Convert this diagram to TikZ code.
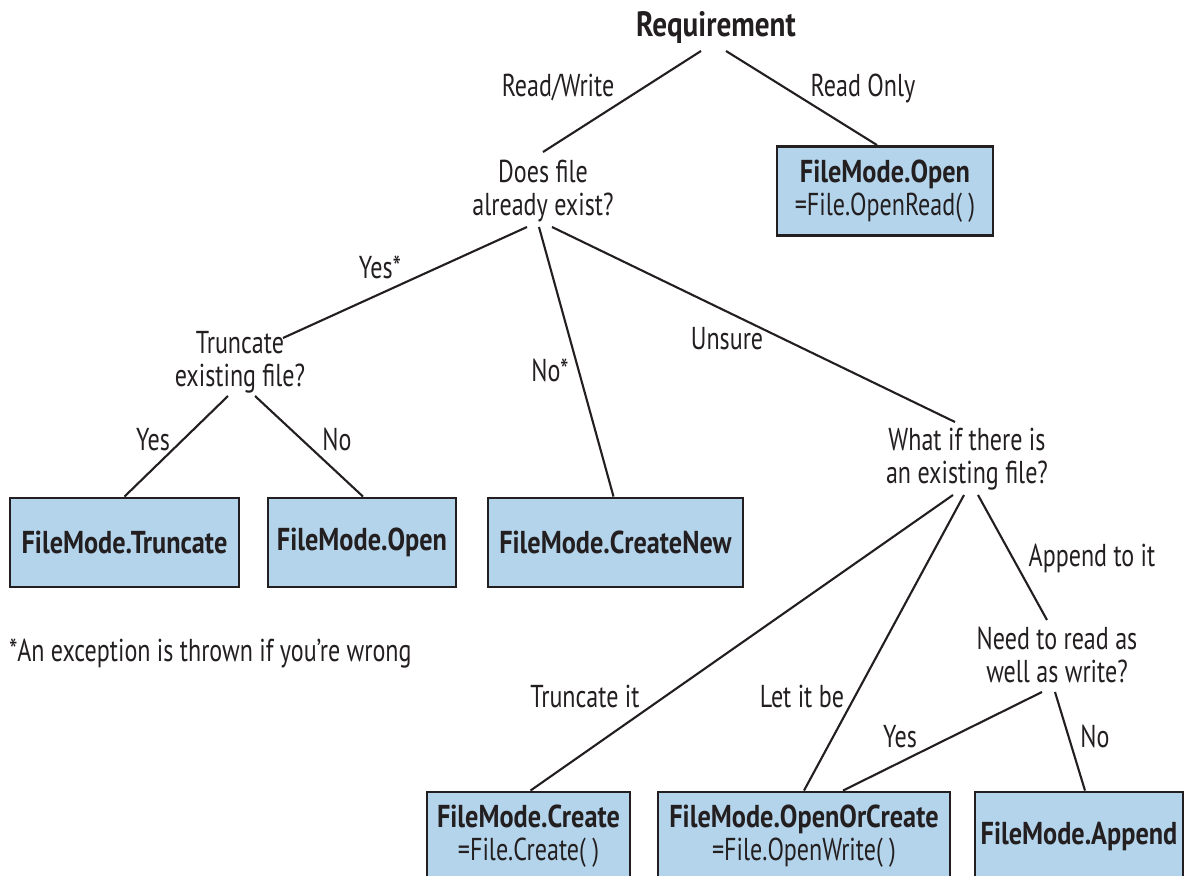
\documentclass[tikz,border=0pt]{standalone}
\usepackage{fontspec}
\setmainfont{PT Sans}[FakeStretch=0.76,BoldFeatures={FakeStretch=0.83}]
\usetikzlibrary{calc}
\definecolor{boxblue}{HTML}{B4D4EB}
\definecolor{ink}{HTML}{231F20}

\begin{document}
\begin{tikzpicture}[x=0.01cm,y=-0.01cm,line width=0.6pt,ink,
  font=\fontsize{9}{9.4}\selectfont,
  mode/.style={draw=ink,fill=boxblue,line width=0.8pt,align=center,inner sep=0pt,minimum height=0.89cm},
  ask/.style={align=center,inner sep=0pt},
  lbl/.style={anchor=base,inner sep=0pt}]
  \useasboundingbox (0,0) rectangle (1190,876);
  \clip (0,0) rectangle (1190,876);
  % questions
  \node[lbl,font=\fontsize{10}{10}\selectfont\bfseries] (req) at (716,37) {Requirement};
  \node[ask] (exist) at (543,191) {Does file\\already exist?};
  \node[ask] (trunc) at (240,362) {Truncate\\existing file?};
  \node[ask] (there) at (967,459) {What if there is\\an existing file?};
  \node[ask] (rw) at (1057,655) {Need to read as\\well as write?};
  % answers
  \node[mode,minimum width=2.16cm] (openro) at (885,191) {{\bfseries FileMode.Open}\\=File.OpenRead( )};
  \node[mode,minimum width=2.29cm,font=\fontsize{9}{9.4}\selectfont\bfseries] (mtrunc) at (124.5,542.5) {FileMode.Truncate};
  \node[mode,minimum width=1.88cm,font=\fontsize{9}{9.4}\selectfont\bfseries] (mopen) at (362,542.5) {FileMode.Open};
  \node[mode,minimum width=2.55cm,font=\fontsize{9}{9.4}\selectfont\bfseries] (mnew) at (615.5,542.5) {FileMode.CreateNew};
  \node[mode,minimum width=2.03cm] (mcreate) at (528.5,836.5) {{\bfseries FileMode.Create}\\=File.Create( )};
  \node[mode,minimum width=2.92cm] (mooc) at (804,836.5) {{\bfseries FileMode.OpenOrCreate}\\=File.OpenWrite( )};
  \node[mode,minimum width=2.08cm,font=\fontsize{9}{9.4}\selectfont\bfseries] (mapp) at (1079,836.5) {FileMode.Append};
  % connectors
  \draw ($(req.base)+(-15,14)$) -- ($(exist.center)+(0,-39)$);
  \draw ($(req.base)+(10,14)$) -- ($(openro.north)+(-8,0)$);
  \draw ($(exist.center)+(-16,36)$) -- ($(trunc.center)+(43,-24)$);
  \draw ($(exist.center)+(-4,36)$) -- ($(mnew.north)+(-2,0)$);
  \draw ($(exist.center)+(9,36)$) -- ($(there.center)+(-12,-37)$);
  \draw ($(trunc.center)+(-12,34)$) -- (mtrunc.north);
  \draw ($(trunc.center)+(15,34)$) -- ($(mopen.north)+(1,0)$);
  \draw ($(there.center)+(-14,36)$) -- ($(mcreate.north)+(2,0)$);
  \draw ($(there.center)+(-3,36)$) -- (mooc.north);
  \draw ($(there.center)+(11,36)$) -- ($(rw.center)+(-10,-35)$);
  \draw ($(rw.center)+(-15,37)$) -- ($(mooc.north)+(39,0)$);
  \draw ($(rw.center)+(-2,37)$) -- ($(mapp.north)+(6,0)$);
  % labels
  \node[lbl] (lrw) at (558,97) {Read/Write};
  \node[lbl] (lro) at (863,97) {Read Only};
  \node[lbl] (lyesx) at (380,279) {Yes*};
  \node[lbl] (lnox) at (550,382) {No*};
  \node[lbl] (lunsure) at (727,350) {Unsure};
  \node[lbl] (lyes) at (153,451) {Yes};
  \node[lbl] (lno) at (337,451) {No};
  \node[lbl] (lappend) at (1092,567) {Append to it};
  \node[lbl] (ltrunc) at (585,707) {Truncate it};
  \node[lbl] (llet) at (802,707) {Let it be};
  \node[lbl] (lyes2) at (900,748) {Yes};
  \node[lbl] (lno2) at (1095,748) {No};
  \node[lbl,anchor=base west] (note) at (8,662) {*An exception is thrown if you’re wrong};
\end{tikzpicture}
\end{document}
